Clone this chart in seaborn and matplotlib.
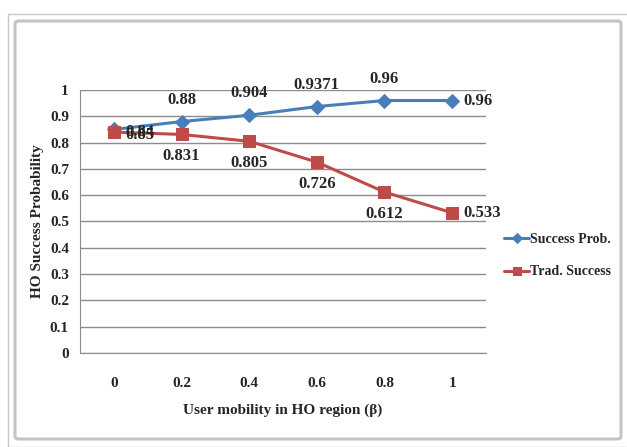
import numpy as np
import pandas as pd
import matplotlib.pyplot as plt
from matplotlib.patches import FancyBboxPatch, Rectangle
import seaborn as sns

# data
beta = ['0', '0.2', '0.4', '0.6', '0.8', '1']
success_prob = [0.85, 0.88, 0.904, 0.9371, 0.96, 0.96]
trad_success = [0.84, 0.831, 0.805, 0.726, 0.612, 0.533]
success_lbl = ['0.85', '0.88', '0.904', '0.9371', '0.96', '0.96']
trad_lbl = ['0.84', '0.831', '0.805', '0.726', '0.612', '0.533']

df = pd.DataFrame({'pos': np.arange(len(beta)),
                   'Success Prob.': success_prob,
                   'Trad. Success': trad_success})

sns.set_style('white')
plt.rcParams['font.family'] = ['Liberation Serif', 'DejaVu Serif']
plt.rcParams['font.weight'] = 'bold'

fig = plt.figure(figsize=(6.27, 4.47), dpi=100)
fig.patch.set_facecolor('white')

# outer frames
fig.patches.append(Rectangle((8/627, 0), 1, 1 - 14/447, transform=fig.transFigure,
                             fill=False, edgecolor='#c8c8c8', lw=1))
fig.patches.append(FancyBboxPatch((15/627, 8/447), 606/627, 418/447,
                                  boxstyle='round,pad=0,rounding_size=0.006',
                                  transform=fig.transFigure, fill=False,
                                  edgecolor='#c4c4c4', lw=2.2))

ax = fig.add_axes([80/627, 94/447, 406/627, 263/447])

blue = '#4A7EBB'
red = '#BE4B48'
sns.lineplot(data=df, x='pos', y='Success Prob.', ax=ax, color=blue, lw=2.2,
             marker='D', markersize=7, markeredgecolor=blue, label='Success Prob.')
sns.lineplot(data=df, x='pos', y='Trad. Success', ax=ax, color=red, lw=2.2,
             marker='s', markersize=8, markeredgecolor=red, label='Trad. Success')

ax.set_xlim(-0.5, len(beta) - 0.5)
ax.set_ylim(0, 1)
ax.set_yticks(np.arange(0, 1.01, 0.1))
ax.set_yticklabels(['0', '0.1', '0.2', '0.3', '0.4', '0.5', '0.6', '0.7', '0.8', '0.9', '1'],
                   fontsize=11, fontweight='bold')
ax.set_xticks(df['pos'])
ax.set_xticklabels(beta, fontsize=11, fontweight='bold')
ax.set_xticks(np.arange(-0.5, len(beta), 1), minor=True)
ax.tick_params(axis='x', which='major', length=0, pad=17)
ax.tick_params(axis='x', which='minor', length=5, color='#8c8c8c', width=1)
ax.tick_params(axis='y', length=5, color='#8c8c8c', width=1, pad=3)
ax.yaxis.grid(True, color='#8c8c8c', lw=1)
ax.set_axisbelow(True)
for s in ['top', 'right']:
    ax.spines[s].set_visible(False)
for s in ['left', 'bottom']:
    ax.spines[s].set_color('#8c8c8c')

ax.set_xlabel('User mobility in HO region (β)', fontsize=11, fontweight='bold', labelpad=10)
ax.set_ylabel('HO Success Probability', fontsize=11, fontweight='bold', labelpad=4)

n = len(beta)
for i in range(n):
    if i == 0:
        ax.annotate(success_lbl[i], (i, success_prob[i]), xytext=(8, -4),
                    textcoords='offset points', fontsize=12, ha='left', va='center')
        ax.annotate(trad_lbl[i], (i, trad_success[i]), xytext=(8, 0),
                    textcoords='offset points', fontsize=12, ha='left', va='center')
    elif i == n - 1:
        ax.annotate(success_lbl[i], (i, success_prob[i]), xytext=(8, 0),
                    textcoords='offset points', fontsize=12, ha='left', va='center')
        ax.annotate(trad_lbl[i], (i, trad_success[i]), xytext=(8, 0),
                    textcoords='offset points', fontsize=12, ha='left', va='center')
    else:
        ax.annotate(success_lbl[i], (i, success_prob[i]), xytext=(0, 10),
                    textcoords='offset points', fontsize=12, ha='center', va='bottom')
        ax.annotate(trad_lbl[i], (i, trad_success[i]), xytext=(0, -10),
                    textcoords='offset points', fontsize=12, ha='center', va='top')

ax.legend(loc='center left', bbox_to_anchor=(1.0, 0.37), frameon=False,
          fontsize=10, handlelength=1.8, labelspacing=1.4, handletextpad=0.1,
          borderaxespad=0.9, markerscale=0.7)

fig.savefig('out.png', dpi=100)
